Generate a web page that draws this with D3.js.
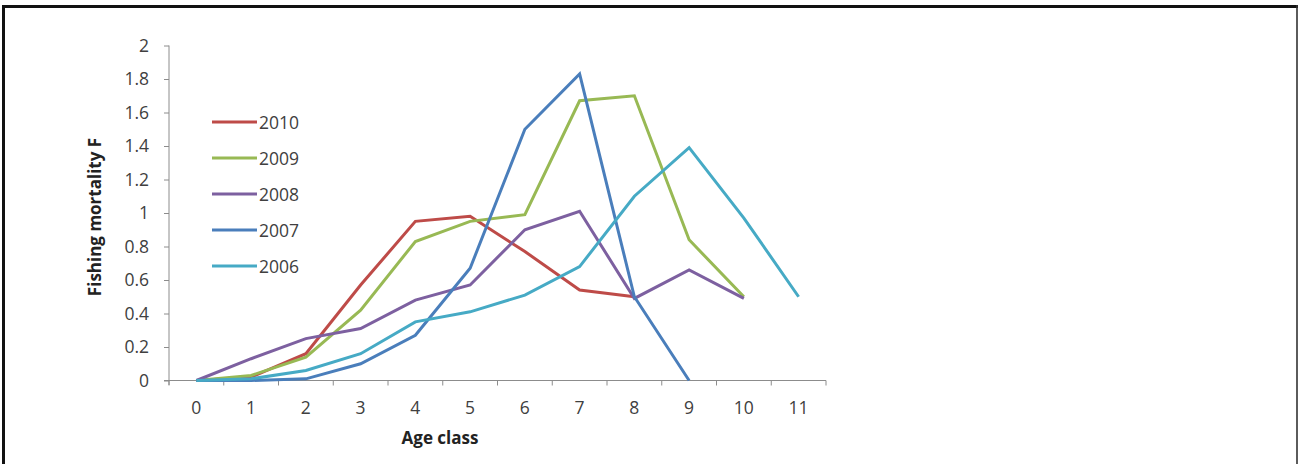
<!DOCTYPE html>
<html><head><meta charset="utf-8">
<script src="https://cdn.jsdelivr.net/npm/d3@7"></script>
<style>
html,body{margin:0;padding:0;background:#fff;}
svg{display:block;}
</style></head>
<body>
<svg id="chart" width="1299" height="464"></svg>
<script>
const ages = [0,1,2,3,4,5,6,7,8,9,10,11];
const yTicks = [0,0.2,0.4,0.6,0.8,1,1.2,1.4,1.6,1.8,2];
const seriesNames = ["2010","2009","2008","2007","2006"];
const v2010 = [0,0.02,0.16,0.57,0.95,0.98,0.77,0.54,0.50];
const v2009 = [0,0.03,0.14,0.42,0.83,0.95,0.99,1.67,1.70,0.84,0.50];
const v2008 = [0,0.13,0.25,0.31,0.48,0.57,0.90,1.01,0.49,0.66,0.49];
const v2007 = [0,0,0.01,0.10,0.27,0.67,1.50,1.83,0.50,0];
const v2006 = [0,0.01,0.06,0.16,0.35,0.41,0.51,0.68,1.10,1.39,0.97,0.50];
const colors = ["#BE4B48","#98B954","#7D60A0","#4A7EBB","#46AAC5"];
const seriesValues = [v2010,v2009,v2008,v2007,v2006];

const svg = d3.select("#chart");
const font = "'Open Sans','Liberation Sans',sans-serif";

// frame
svg.append("line").attr("x1",2).attr("x2",1298).attr("y1",6.5).attr("y2",6.5).attr("stroke","#111").attr("stroke-width",3);
svg.append("line").attr("x1",3.5).attr("x2",3.5).attr("y1",5).attr("y2",464).attr("stroke","#111").attr("stroke-width",3);
svg.append("line").attr("x1",1297).attr("x2",1297).attr("y1",5).attr("y2",464).attr("stroke","#333").attr("stroke-width",1.6);

const x = d3.scaleBand().domain(ages).range([169,826]).paddingInner(0).paddingOuter(0);
const y = d3.scaleLinear().domain([0,2]).range([380.5,45.5]);
const cx = d => x(d) + x.bandwidth()/2;

// y axis
const yAxis = svg.append("g").attr("transform","translate(169,0)")
  .call(d3.axisLeft(y).tickValues(yTicks).tickSize(5).tickPadding(15).tickFormat(d=>String(d)));
yAxis.select(".domain").attr("stroke","#8c8c8c").attr("d","M0,45.5V385");
yAxis.selectAll(".tick line").attr("stroke","#8c8c8c");
yAxis.selectAll(".tick text").attr("font-family",font).attr("font-size",17.5).attr("fill","#404040");

// x axis
const xg = svg.append("g").attr("transform","translate(0,380.5)");
xg.append("line").attr("x1",164).attr("x2",826).attr("y1",0).attr("y2",0).attr("stroke","#8c8c8c");
const bounds = ages.map(a=>x(a)).concat([x(11)+x.bandwidth()]);
xg.selectAll("line.tk").data(bounds).enter().append("line").attr("class","tk")
  .attr("x1",d=>d).attr("x2",d=>d).attr("y1",0).attr("y2",5).attr("stroke","#8c8c8c");
xg.selectAll("text").data(ages).enter().append("text")
  .attr("x",d=>cx(d)).attr("y",33).attr("text-anchor","middle")
  .attr("font-family",font).attr("font-size",17.5).attr("fill","#404040").text(d=>d);

// titles
svg.append("text").attr("x",440).attr("y",444).attr("text-anchor","middle")
  .attr("font-family",font).attr("font-weight","bold").attr("font-size",17).attr("fill","#222").text("Age class");
svg.append("text").attr("transform","translate(101,217) rotate(-90)").attr("text-anchor","middle")
  .attr("font-family",font).attr("font-weight","bold").attr("font-size",17).attr("fill","#222").text("Fishing mortality F");

// lines
const line = d3.line().x((d,i)=>cx(ages[i])).y(d=>y(d));
seriesValues.forEach((vals,k)=>{
  svg.append("path").datum(vals).attr("d",line).attr("fill","none")
    .attr("stroke",colors[k]).attr("stroke-width",3).attr("stroke-linejoin","miter");
});

// legend
seriesNames.forEach((n,k)=>{
  const yy = 122 + k*36;
  svg.append("line").attr("x1",212).attr("x2",257).attr("y1",yy).attr("y2",yy)
    .attr("stroke",colors[k]).attr("stroke-width",3);
  svg.append("text").attr("x",259).attr("y",yy+6.5).attr("font-family",font).attr("font-size",17.5)
    .attr("fill","#404040").text(n);
});
</script>
</body></html>
